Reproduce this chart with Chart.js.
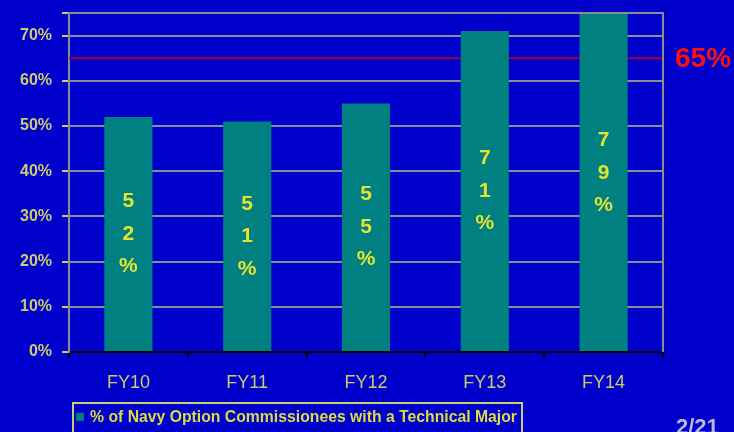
<!DOCTYPE html>
<html>
<head>
<meta charset="utf-8">
<script src="https://cdn.jsdelivr.net/npm/chart.js@4/dist/chart.umd.min.js"></script>
<style>
  html, body { margin: 0; padding: 0; background: #0000cc; }
  #wrap { width: 734px; height: 432px; position: relative; overflow: hidden; }
</style>
</head>
<body>
<div id="wrap"><canvas id="chart" width="734" height="432"></canvas></div>
<script>
const categories = ['FY10', 'FY11', 'FY12', 'FY13', 'FY14'];
const percents = [52, 51, 55, 71, 79];
const target = 65;
const seriesLabel = '% of Navy Option Commissionees with a Technical Major';
const pageNumber = '2/21';

const COLORS = {
  bg: '#0000cc',
  bar: '#008080',
  grid: '#8c8c94',
  tick: '#cccc70',
  barText: '#e4e430',
  target: '#a0003c',
  targetText: '#ff1010',
  legendText: '#dcdc40',
};

// inline labels stacked one character per line, centred on the full bar
const stackedLabels = {
  id: 'stackedLabels',
  afterDatasetsDraw(chart) {
    const { ctx } = chart;
    const meta = chart.getDatasetMeta(0);
    ctx.save();
    ctx.font = 'bold 21px "Liberation Sans", Arial, sans-serif';
    ctx.fillStyle = COLORS.barText;
    ctx.textAlign = 'center';
    ctx.textBaseline = 'middle';
    meta.data.forEach((bar, i) => {
      const chars = `${percents[i]}%`.split('');
      const mid = (bar.y + bar.base) / 2;
      const step = 32.5;
      chars.forEach((ch, k) => {
        ctx.fillText(ch, bar.x, mid + (k - (chars.length - 1) / 2) * step);
      });
    });
    ctx.restore();
  },
};

// target line (behind bars) + plot frame + legend + page number
const decorations = {
  id: 'decorations',
  beforeDatasetsDraw(chart) {
    const { ctx, chartArea: a, scales } = chart;
    const y = scales.y.getPixelForValue(target);
    ctx.save();
    ctx.strokeStyle = COLORS.target;
    ctx.lineWidth = 2;
    ctx.beginPath();
    ctx.moveTo(a.left, y);
    ctx.lineTo(a.right, y);
    ctx.stroke();
    ctx.restore();
  },
  afterDraw(chart) {
    const { ctx, chartArea: a, scales } = chart;
    ctx.save();
    ctx.strokeStyle = COLORS.grid;
    ctx.lineWidth = 2;
    ctx.beginPath();
    ctx.moveTo(a.left, a.top);
    ctx.lineTo(a.right, a.top);
    ctx.lineTo(a.right, a.bottom);
    ctx.stroke();

    ctx.fillStyle = COLORS.targetText;
    ctx.font = 'bold 28px "Liberation Sans", Arial, sans-serif';
    ctx.textBaseline = 'middle';
    ctx.textAlign = 'left';
    ctx.fillText(`${target}%`, a.right + 12, scales.y.getPixelForValue(target) + 1);

    // legend
    const lx = 73, ly = a.bottom + 51, lw = 449;
    ctx.strokeStyle = COLORS.tick;
    ctx.lineWidth = 2;
    ctx.strokeRect(lx, ly, lw, 60);
    ctx.fillStyle = COLORS.bar;
    ctx.fillRect(lx + 3, ly + 10, 8, 8);
    ctx.fillStyle = COLORS.legendText;
    ctx.font = 'bold 16px "Liberation Sans", Arial, sans-serif';
    ctx.textBaseline = 'middle';
    const tw = ctx.measureText(seriesLabel).width;
    const avail = lw - 22;
    ctx.save();
    ctx.translate(lx + 17, ly + 15);
    ctx.scale(avail / tw, 1);
    ctx.fillText(seriesLabel, 0, 0);
    ctx.restore();

    ctx.fillStyle = '#b8b8d8';
    ctx.font = 'bold 22px "Liberation Sans", Arial, sans-serif';
    ctx.textBaseline = 'top';
    ctx.fillText(pageNumber, 676, 417);
    ctx.restore();
  },
};

new Chart(document.getElementById('chart'), {
  type: 'bar',
  data: {
    labels: categories,
    datasets: [{
      label: seriesLabel,
      data: percents,
      backgroundColor: COLORS.bar,
      borderWidth: 0,
      barPercentage: 0.81,
      categoryPercentage: 0.5,
    }],
  },
  options: {
    responsive: false,
    animation: false,
    devicePixelRatio: 1,
    layout: { padding: { top: 13, right: 71, bottom: 40, left: 0 } },
    plugins: {
      legend: { display: false },
      tooltip: { enabled: false },
    },
    scales: {
      x: {
        grid: { display: true, drawOnChartArea: false, color: '#000000', tickLength: 6, lineWidth: 2, offset: true },
        border: { display: true, color: '#000000', width: 2 },
        ticks: { color: COLORS.tick, padding: 14, font: { size: 18, family: '"Liberation Sans", Arial' } },
        afterFit: scale => { scale.height = 40; },
      },
      y: {
        min: 0,
        max: 75,
        ticks: {
          stepSize: 10,
          color: COLORS.tick,
          padding: 10,
          font: { size: 16, weight: 'bold', family: '"Liberation Sans", Arial' },
          callback: v => (v % 10 === 0 ? `${v}%` : ''),
        },
        grid: { color: COLORS.grid, lineWidth: 2, tickLength: 7, tickColor: COLORS.tick },
        border: { display: true, color: COLORS.grid, width: 2 },
        afterFit: scale => { scale.width = 69; scale.paddingTop = 0; scale.paddingBottom = 0; },
      },
    },
  },
  plugins: [
    { id: 'bg', beforeDraw(c) { c.ctx.save(); c.ctx.fillStyle = COLORS.bg; c.ctx.fillRect(0, 0, c.width, c.height); c.ctx.restore(); } },
    decorations,
    stackedLabels,
  ],
});
</script>
</body>
</html>
